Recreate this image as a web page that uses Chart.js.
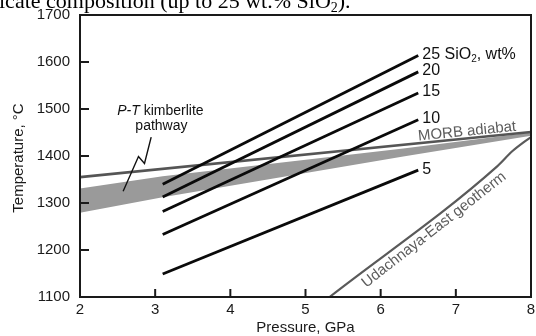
<!DOCTYPE html>
<html>
<head>
<meta charset="utf-8">
<script src="https://cdn.jsdelivr.net/npm/chart.js@4"></script>
<style>
html,body{margin:0;padding:0;background:#fff;}
canvas{display:block;}
</style>
</head>
<body>
<canvas id="c" width="536" height="336"></canvas>
<script>
// ---- data (pressure in GPa, temperature in °C) ----
const pressureTicks = [2, 3, 4, 5, 6, 7, 8];
const temperatureTicks = [1100, 1200, 1300, 1400, 1500, 1600, 1700];
const sio2Names = ['25', '20', '15', '10', '5'];
const sio2P = [3.1, 6.5];
const sio2T25 = [1340, 1614];
const sio2T20 = [1313, 1579];
const sio2T15 = [1282, 1534];
const sio2T10 = [1233, 1477];
const sio2T5 = [1149, 1370];
const morbP = [2, 8];
const morbT = [1355, 1451];
const bandP = [2, 3.1, 6.3, 8];
const bandTop = [1331, 1357, 1416, 1450];
const bandBottom = [1279, 1312, 1399, 1443];
const geoP = [5.32, 7.55, 7.75, 7.9, 8.0];
const geoT = [1100, 1378, 1410, 1429, 1440];
const leaderP = [2.947, 2.858, 2.778, 2.574];
const leaderT = [1440, 1384, 1399, 1325];

const pts = (xs, ys) => xs.map((x, i) => ({x: x, y: ys[i]}));
const FONT = '"Liberation Sans", Arial, sans-serif';
const sio2Series = [sio2T25, sio2T20, sio2T15, sio2T10, sio2T5];

const datasets = [];
sio2Series.forEach((s, i) => datasets.push({
  label: 'SiO2 ' + sio2Names[i], data: pts(sio2P, s), showLine: true,
  borderColor: '#0a0a0a', borderWidth: 2.8, pointRadius: 0, fill: false, order: 1
}));
datasets.push({label: 'leader', data: pts(leaderP, leaderT), showLine: true,
  borderColor: '#111', borderWidth: 1.4, pointRadius: 0, fill: false, order: 1});
datasets.push({label: 'MORB adiabat', data: pts(morbP, morbT), showLine: true,
  borderColor: '#555', borderWidth: 2.6, pointRadius: 0, fill: false, order: 2});
datasets.push({label: 'Udachnaya-East geotherm', data: pts(geoP, geoT), showLine: true,
  borderColor: '#5a5a5a', borderWidth: 2.2, pointRadius: 0, fill: false,
  cubicInterpolationMode: 'monotone', order: 2});
datasets.push({label: 'band bottom', data: pts(bandP, bandBottom), showLine: true,
  borderColor: 'rgba(0,0,0,0)', borderWidth: 0, pointRadius: 0, fill: false, order: 3});
datasets.push({label: 'band top', data: pts(bandP, bandTop), showLine: true,
  borderColor: 'rgba(0,0,0,0)', borderWidth: 0, pointRadius: 0,
  backgroundColor: '#9a9a9a', fill: '-1', order: 3});

const decor = {
  id: 'decor',
  afterDraw(chart) {
    const ctx = chart.ctx, xs = chart.scales.x, ys = chart.scales.y, a = chart.chartArea;
    ctx.save();
    // frame
    ctx.strokeStyle = '#1a1a1a'; ctx.lineWidth = 2;
    ctx.strokeRect(a.left, a.top, a.right - a.left, a.bottom - a.top);
    // inner ticks
    ctx.lineWidth = 2;
    pressureTicks.slice(1, -1).forEach(p => {
      const x = xs.getPixelForValue(p);
      ctx.beginPath(); ctx.moveTo(x, a.bottom); ctx.lineTo(x, a.bottom - 8); ctx.stroke();
    });
    temperatureTicks.slice(1, -1).forEach(t => {
      const y = ys.getPixelForValue(t);
      ctx.beginPath(); ctx.moveTo(a.left, y); ctx.lineTo(a.left + 9, y); ctx.stroke();
    });
    // SiO2 labels at line ends
    ctx.fillStyle = '#111'; ctx.textBaseline = 'middle'; ctx.textAlign = 'left';
    sio2Series.forEach((s, i) => {
      const x = xs.getPixelForValue(sio2P[1]) + 4;
      const y = ys.getPixelForValue(s[1]) - 1;
      ctx.font = '16px ' + FONT;
      if (i === 0) {
        let t = sio2Names[i] + ' SiO';
        ctx.fillText(t, x, y);
        let w = ctx.measureText(t).width;
        ctx.font = '10px ' + FONT;
        ctx.fillText('2', x + w, y + 5);
        w += ctx.measureText('2').width;
        ctx.font = '16px ' + FONT;
        ctx.fillText(', wt%', x + w, y);
      } else {
        ctx.fillText(sio2Names[i], x, y);
      }
    });
    // MORB adiabat label
    ctx.fillStyle = '#5c5c5c';
    const m0x = xs.getPixelForValue(morbP[0]), m0y = ys.getPixelForValue(morbT[0]);
    const m1x = xs.getPixelForValue(morbP[1]), m1y = ys.getPixelForValue(morbT[1]);
    const ang = Math.atan2(m1y - m0y, m1x - m0x);
    ctx.save();
    ctx.translate(xs.getPixelForValue(7.15), ys.getPixelForValue(1452));
    ctx.rotate(ang);
    ctx.font = '15px ' + FONT; ctx.textAlign = 'center'; ctx.textBaseline = 'middle';
    ctx.fillText('MORB adiabat', 0, 0);
    ctx.restore();
    // geotherm label
    const g0x = xs.getPixelForValue(geoP[0]), g0y = ys.getPixelForValue(geoT[0]);
    const g1x = xs.getPixelForValue(geoP[1]), g1y = ys.getPixelForValue(geoT[1]);
    const gang = Math.atan2(g1y - g0y, g1x - g0x);
    ctx.save();
    ctx.translate(xs.getPixelForValue(6.71), ys.getPixelForValue(1243));
    ctx.rotate(gang);
    ctx.font = '15px ' + FONT; ctx.textAlign = 'center'; ctx.textBaseline = 'middle';
    ctx.fillText('Udachnaya-East geotherm', 0, 0);
    ctx.restore();
    // P-T kimberlite pathway
    ctx.fillStyle = '#111'; ctx.textBaseline = 'middle'; ctx.textAlign = 'left';
    const cx = xs.getPixelForValue(3.07), l1 = ys.getPixelForValue(1496), l2 = ys.getPixelForValue(1463);
    ctx.font = 'italic 14px ' + FONT;
    const w1 = ctx.measureText('P-T').width;
    ctx.font = '14px ' + FONT;
    const w2 = ctx.measureText(' kimberlite').width;
    let sx = cx - (w1 + w2) / 2;
    ctx.font = 'italic 14px ' + FONT; ctx.fillText('P-T', sx, l1);
    ctx.font = '14px ' + FONT; ctx.fillText(' kimberlite', sx + w1, l1);
    ctx.textAlign = 'center'; ctx.fillText('pathway', cx + 1, l2);
    // axis titles
    ctx.fillStyle = '#1a1a1a';
    ctx.font = '15px ' + FONT; ctx.textAlign = 'center'; ctx.textBaseline = 'middle';
    ctx.fillText('Pressure, GPa', (a.left + a.right) / 2, 328);
    ctx.save(); ctx.translate(19, 158); ctx.rotate(-Math.PI / 2);
    ctx.fillText('Temperature, °C', 0, 0); ctx.restore();
    // cropped caption at top
    ctx.fillStyle = '#000'; ctx.textAlign = 'left'; ctx.textBaseline = 'alphabetic';
    ctx.font = '22px "Liberation Serif", "Times New Roman", serif';
    let t1 = 'icate composition (up to 25 wt.% SiO';
    ctx.fillText(t1, -1, 8);
    let cw = ctx.measureText(t1).width - 1;
    ctx.font = '14px "Liberation Serif", serif';
    ctx.fillText('2', cw, 11.5);
    cw += ctx.measureText('2').width;
    ctx.font = '22px "Liberation Serif", "Times New Roman", serif';
    ctx.fillText(').', cw, 8);
    ctx.restore();
  }
};

const zeroPad = s => { s.paddingTop = 0; s.paddingBottom = 0; s.paddingLeft = 0; s.paddingRight = 0; };

new Chart(document.getElementById('c'), {
  type: 'scatter',
  data: {datasets: datasets},
  options: {
    responsive: false, animation: false, devicePixelRatio: 1,
    layout: {padding: {top: 15, right: 5, left: 0, bottom: 0}},
    plugins: {legend: {display: false}, tooltip: {enabled: false}, title: {display: false}},
    scales: {
      x: {
        type: 'linear', min: 2, max: 8,
        afterFit: s => { s.height = 39; zeroPad(s); },
        afterBuildTicks: s => { s.ticks = pressureTicks.map(v => ({value: v})); },
        grid: {display: false, drawTicks: false},
        border: {display: false},
        ticks: {font: {family: FONT, size: 15}, color: '#1a1a1a', padding: 4, maxRotation: 0,
          callback: v => String(v)}
      },
      y: {
        type: 'linear', min: 1100, max: 1700,
        afterFit: s => { s.width = 80; zeroPad(s); },
        afterBuildTicks: s => { s.ticks = temperatureTicks.map(v => ({value: v})); },
        grid: {display: false, drawTicks: false},
        border: {display: false},
        ticks: {font: {family: FONT, size: 15}, color: '#1a1a1a', padding: 10,
          callback: v => String(v)}
      }
    }
  },
  plugins: [decor]
});
</script>
</body>
</html>
